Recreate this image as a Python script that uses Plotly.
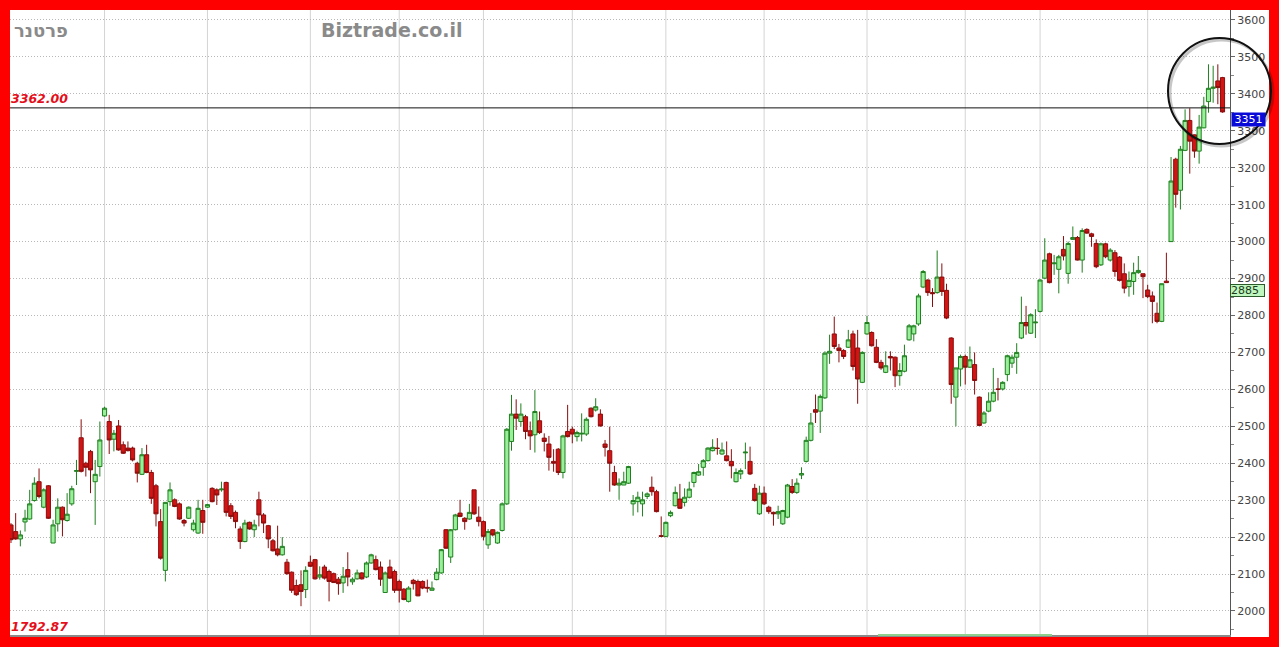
import plotly.graph_objects as go

# ---------------- data ----------------
opens = [
    2233, 2215, 2195, 2241, 2249, 2299, 2350, 2281, 2339, 2184,
    2236, 2281, 2245, 2290, 2378, 2469, 2400, 2432, 2350, 2391,
    2528, 2513, 2465, 2501, 2450, 2441, 2441, 2400, 2370, 2423,
    2375, 2339, 2242, 2110, 2296, 2301, 2290, 2245, 2251, 2220,
    2211, 2272, 2281, 2332, 2328, 2328, 2348, 2285, 2267, 2222,
    2188, 2240, 2220, 2301, 2260, 2231, 2190, 2168, 2152, 2132,
    2105, 2069, 2071, 2058, 2132, 2139, 2092, 2119, 2107, 2101,
    2086, 2076, 2112, 2079, 2087, 2103, 2092, 2130, 2139, 2119,
    2050, 2119, 2107, 2080, 2059, 2026, 2083, 2080, 2080, 2064,
    2056, 2085, 2103, 2220, 2146, 2220, 2265, 2251, 2249, 2328,
    2254, 2242, 2179, 2220, 2184, 2218, 2290, 2459, 2533, 2513,
    2526, 2488, 2477, 2515, 2468, 2452, 2405, 2438, 2375, 2486,
    2492, 2472, 2479, 2479, 2549, 2544, 2533, 2452, 2434, 2375,
    2341, 2341, 2346, 2290, 2296, 2290, 2310, 2335, 2323, 2204,
    2202, 2258, 2285, 2303, 2294, 2308, 2348, 2368, 2389, 2407,
    2434, 2441, 2425, 2420, 2405, 2350, 2371, 2428, 2405, 2332,
    2263, 2319, 2281, 2267, 2263, 2236, 2254, 2337, 2321, 2368,
    2405, 2462, 2545, 2541, 2577, 2698, 2750, 2712, 2705, 2714,
    2750, 2712, 2619, 2750, 2754, 2714, 2673, 2646, 2689, 2687,
    2637, 2649, 2734, 2750, 2777, 2877, 2896, 2862, 2862, 2904,
    2868, 2739, 2579, 2655, 2689, 2660, 2667, 2579, 2509, 2541,
    2568, 2601, 2601, 2640, 2671, 2687, 2739, 2781, 2752, 2780,
    2811, 2901, 2967, 2940, 2925, 2979, 2914, 3006, 3011, 2950,
    3033, 3021, 2995, 2937, 2994, 2950, 2970, 2958, 2913, 2878,
    2892, 2916, 2913, 2869, 2853, 2806, 2784, 2893, 3000, 3223,
    3139, 3247, 3328, 3289, 3245, 3308, 3379, 3415, 3435, 3444,
]
closes = [
    2193, 2195, 2206, 2251, 2290, 2346, 2310, 2328, 2251, 2233,
    2281, 2247, 2262, 2331, 2380, 2378, 2389, 2382, 2370, 2463,
    2549, 2463, 2481, 2436, 2427, 2434, 2409, 2373, 2423, 2375,
    2305, 2263, 2143, 2294, 2328, 2283, 2249, 2238, 2281, 2238,
    2278, 2240, 2288, 2296, 2314, 2330, 2267, 2256, 2242, 2188,
    2238, 2222, 2233, 2260, 2238, 2195, 2163, 2152, 2175, 2101,
    2056, 2044, 2053, 2110, 2121, 2087, 2098, 2089, 2080, 2077,
    2074, 2094, 2092, 2086, 2103, 2087, 2130, 2152, 2112, 2086,
    2103, 2089, 2056, 2056, 2031, 2062, 2074, 2041, 2062, 2062,
    2062, 2105, 2166, 2170, 2220, 2260, 2256, 2242, 2267, 2263,
    2242, 2202, 2215, 2206, 2213, 2290, 2492, 2533, 2522, 2533,
    2486, 2474, 2540, 2483, 2459, 2416, 2400, 2375, 2474, 2472,
    2479, 2483, 2481, 2519, 2526, 2553, 2501, 2443, 2400, 2341,
    2346, 2350, 2391, 2299, 2308, 2301, 2317, 2323, 2269, 2202,
    2240, 2267, 2321, 2278, 2308, 2330, 2375, 2377, 2407, 2441,
    2443, 2440, 2436, 2407, 2393, 2375, 2380, 2430, 2371, 2299,
    2319, 2290, 2269, 2263, 2269, 2272, 2341, 2321, 2346, 2372,
    2462, 2509, 2538, 2581, 2698, 2703, 2716, 2705, 2689, 2734,
    2662, 2628, 2700, 2781, 2718, 2673, 2658, 2664, 2685, 2637,
    2651, 2691, 2772, 2772, 2853, 2919, 2862, 2859, 2904, 2865,
    2793, 2613, 2658, 2689, 2660, 2680, 2624, 2502, 2536, 2568,
    2592, 2600, 2619, 2691, 2687, 2700, 2781, 2772, 2802, 2782,
    2896, 2950, 2889, 2942, 2959, 2961, 2995, 3011, 2950, 3030,
    3023, 3014, 2932, 2994, 2959, 2977, 2919, 2895, 2874, 2895,
    2916, 2922, 2905, 2851, 2838, 2784, 2886, 2889, 3164, 3128,
    3250, 3328, 3272, 3245, 3310, 3367, 3415, 3418, 3417, 3351,
]
highs = [
    2238, 2265, 2218, 2274, 2328, 2362, 2386, 2332, 2341, 2247,
    2305, 2283, 2319, 2339, 2409, 2519, 2404, 2436, 2409, 2513,
    2553, 2531, 2490, 2517, 2459, 2459, 2445, 2404, 2441, 2450,
    2382, 2344, 2276, 2294, 2348, 2305, 2294, 2249, 2283, 2247,
    2301, 2301, 2290, 2335, 2332, 2350, 2350, 2292, 2272, 2229,
    2247, 2242, 2247, 2323, 2265, 2233, 2195, 2231, 2200, 2141,
    2107, 2085, 2110, 2121, 2150, 2141, 2121, 2125, 2112, 2104,
    2092, 2119, 2159, 2091, 2112, 2105, 2134, 2155, 2150, 2134,
    2107, 2139, 2112, 2085, 2062, 2067, 2087, 2085, 2083, 2085,
    2080, 2116, 2168, 2222, 2222, 2263, 2301, 2254, 2290, 2328,
    2283, 2245, 2222, 2222, 2215, 2294, 2495, 2585, 2573, 2562,
    2531, 2513, 2598, 2540, 2481, 2474, 2438, 2441, 2477, 2558,
    2499, 2488, 2535, 2524, 2551, 2576, 2546, 2463, 2499, 2393,
    2359, 2377, 2393, 2314, 2323, 2323, 2321, 2364, 2328, 2256,
    2242, 2272, 2337, 2344, 2332, 2350, 2377, 2398, 2411, 2443,
    2465, 2468, 2456, 2459, 2438, 2386, 2386, 2456, 2445, 2344,
    2339, 2337, 2285, 2269, 2285, 2274, 2344, 2357, 2359, 2389,
    2472, 2536, 2586, 2586, 2703, 2748, 2797, 2723, 2709, 2761,
    2759, 2761, 2703, 2799, 2757, 2736, 2680, 2703, 2703, 2689,
    2671, 2721, 2777, 2775, 2859, 2923, 2898, 2874, 2976, 2941,
    2886, 2741, 2658, 2694, 2694, 2716, 2700, 2581, 2541, 2592,
    2658, 2631, 2622, 2694, 2694, 2725, 2851, 2826, 2806, 2817,
    2898, 3009, 2970, 2964, 2964, 3015, 3000, 3041, 3015, 3036,
    3036, 3024, 3006, 2997, 2997, 2982, 2977, 2961, 2941, 2919,
    2943, 2961, 2913, 2883, 2865, 2835, 2886, 2970, 3229, 3227,
    3259, 3358, 3361, 3290, 3343, 3392, 3480, 3476, 3480, 3446,
]
lows = [
    2184, 2193, 2175, 2215, 2247, 2296, 2305, 2278, 2249, 2184,
    2215, 2202, 2242, 2285, 2341, 2375, 2364, 2319, 2233, 2364,
    2526, 2425, 2432, 2434, 2425, 2432, 2405, 2348, 2368, 2373,
    2290, 2229, 2139, 2080, 2285, 2281, 2247, 2229, 2249, 2215,
    2209, 2209, 2279, 2294, 2287, 2323, 2256, 2249, 2224, 2168,
    2186, 2220, 2200, 2229, 2211, 2170, 2161, 2148, 2150, 2098,
    2049, 2041, 2013, 2035, 2119, 2085, 2085, 2085, 2026, 2076,
    2044, 2049, 2067, 2071, 2085, 2085, 2089, 2128, 2110, 2068,
    2049, 2087, 2049, 2023, 2029, 2023, 2058, 2040, 2059, 2050,
    2056, 2083, 2101, 2168, 2130, 2218, 2254, 2220, 2247, 2260,
    2229, 2191, 2168, 2202, 2182, 2215, 2287, 2434, 2490, 2499,
    2465, 2436, 2429, 2479, 2432, 2380, 2377, 2368, 2359, 2470,
    2454, 2459, 2459, 2474, 2524, 2540, 2499, 2418, 2323, 2339,
    2301, 2341, 2344, 2258, 2267, 2256, 2303, 2312, 2267, 2200,
    2200, 2254, 2283, 2276, 2283, 2305, 2335, 2366, 2366, 2405,
    2432, 2423, 2423, 2405, 2359, 2348, 2357, 2384, 2368, 2296,
    2260, 2287, 2263, 2231, 2249, 2233, 2251, 2317, 2317, 2357,
    2402, 2459, 2509, 2482, 2574, 2669, 2709, 2673, 2682, 2712,
    2651, 2561, 2617, 2748, 2716, 2671, 2653, 2644, 2651, 2606,
    2610, 2646, 2732, 2730, 2772, 2874, 2853, 2823, 2859, 2853,
    2790, 2561, 2500, 2608, 2613, 2658, 2586, 2502, 2507, 2538,
    2565, 2570, 2597, 2622, 2658, 2642, 2736, 2748, 2750, 2739,
    2808, 2898, 2887, 2910, 2860, 2949, 2886, 3005, 2949, 2916,
    3021, 2986, 2928, 2934, 2955, 2946, 2905, 2892, 2860, 2851,
    2856, 2913, 2847, 2847, 2779, 2779, 2782, 2889, 2999, 3092,
    3087, 3245, 3184, 3227, 3211, 3307, 3349, 3376, 3372, 3349,
]
# candle positions where the vertical (month) grid lines fall
month_idx = [20, 42, 64, 83, 101, 120, 140, 161, 183, 204, 220, 243]
y_ticks = list(range(2000, 3601, 100))
ref_level = 3362.00
min_label = "1792.87"
last_price = 3351
green_label = 2885

n = len(opens)
x = list(range(n))
highs = [max(h, o, c) for h, o, c in zip(highs, opens, closes)]
lows = [min(l, o, c) for l, o, c in zip(lows, opens, closes)]

fig = go.Figure(go.Candlestick(
    x=x, open=opens, high=highs, low=lows, close=closes,
    increasing=dict(line=dict(color="#1f7f1f", width=1), fillcolor="#9af09a"),
    decreasing=dict(line=dict(color="#8a0d0d", width=1), fillcolor="#d21414"),
    whiskerwidth=0, hoverinfo="skip", showlegend=False,
))

W, H = 1279, 647
ml, mr, mt, mb = 10, 49, 10, 12
pw, ph = W - ml - mr, H - mt - mb


def px_x(p):
    return (p - ml) / pw


def px_y(p):
    return (H - mb - p) / ph


shapes = [
    # white strip for price axis labels
    dict(type="rect", xref="paper", yref="paper", x0=1, x1=px_x(1269), y0=px_y(637), y1=1,
         fillcolor="white", line=dict(width=0), layer="below"),
    # vertical month grid lines (solid, light)
    *[dict(type="line", xref="x", yref="paper", x0=m, x1=m, y0=0, y1=1,
           line=dict(color="#d4d4d4", width=1), layer="below") for m in month_idx],
    # reference horizontal line
    dict(type="line", xref="paper", yref="y", x0=0, x1=1, y0=ref_level, y1=ref_level,
         line=dict(color="#111111", width=1)),
    # green strip at bottom
    dict(type="line", xref="paper", yref="paper", x0=px_x(878), x1=px_x(1052), y0=0.0, y1=0.0,
         line=dict(color="#8fd08f", width=2)),
    # circle shadow
    dict(type="circle", xref="paper", yref="paper", x0=px_x(1170), x1=px_x(1273),
         y0=px_y(146), y1=px_y(40), line=dict(color="rgba(0,0,0,0.22)", width=3)),
    # circle
    dict(type="circle", xref="paper", yref="paper", x0=px_x(1168), x1=px_x(1271),
         y0=px_y(144), y1=px_y(38), line=dict(color="#111111", width=2)),
]

annotations = [
    dict(text="<b>פרטנר</b>", xref="paper", yref="paper", x=px_x(12), y=px_y(30),
         xanchor="left", yanchor="middle", showarrow=False,
         font=dict(family="DejaVu Sans", size=18, color="#8a8a8a")),
    dict(text="<b>Biztrade.co.il</b>", xref="paper", yref="paper", x=px_x(319), y=px_y(30),
         xanchor="left", yanchor="middle", showarrow=False,
         font=dict(family="DejaVu Sans", size=19, color="#8a8a8a")),
    dict(text="<b><i>%.2f</i></b>" % ref_level, xref="paper", yref="paper", x=px_x(9), y=px_y(98),
         xanchor="left", yanchor="middle", showarrow=False,
         font=dict(family="DejaVu Sans", size=12.5, color="#e3101c")),
    dict(text="<b><i>%s</i></b>" % min_label, xref="paper", yref="paper", x=px_x(9), y=px_y(626),
         xanchor="left", yanchor="middle", showarrow=False,
         font=dict(family="DejaVu Sans", size=12.5, color="#e3101c")),
    dict(text=str(last_price), xref="paper", yref="y", x=px_x(1231), y=last_price,
         xanchor="left", yanchor="top", showarrow=False, width=31, height=11,
         bgcolor="#0a0ad8", borderpad=1, align="center",
         font=dict(family="DejaVu Sans", size=11, color="white")),
    dict(text=str(green_label), xref="paper", yref="y", x=px_x(1230), y=green_label,
         xanchor="left", yanchor="top", showarrow=False, width=33, height=11,
         bgcolor="#bff7bf", bordercolor="#2b5a2b", borderwidth=1, borderpad=0, align="left",
         font=dict(family="DejaVu Sans", size=11, color="#1a3a1a")),
]

fig.update_layout(
    width=W, height=H,
    margin=dict(l=ml, r=mr, t=mt, b=mb, pad=0),
    paper_bgcolor="#ff0000", plot_bgcolor="white",
    showlegend=False, boxgap=0.12, boxgroupgap=0,
    shapes=shapes, annotations=annotations,
    xaxis=dict(
        range=[-0.21, 260.6], rangeslider=dict(visible=False),
        tickmode="array", tickvals=month_idx, showticklabels=False, ticks="",
        showgrid=False,
        zeroline=False, showline=True, linecolor="#8a8a8a", linewidth=2,
        fixedrange=True,
    ),
    yaxis=dict(
        side="right", range=[1935, 3627],
        tickmode="array", tickvals=y_ticks,
        showgrid=True, gridcolor="#b8b8b8", griddash="1px,2px", gridwidth=1,
        ticks="outside", ticklen=4, tickcolor="#666666",
        minor=dict(tickmode="linear", tick0=1950, dtick=100, ticks="outside", ticklen=3,
                   tickcolor="#888888", showgrid=False),
        showline=True, linecolor="#555555", linewidth=1,
        tickfont=dict(family="DejaVu Sans", size=11, color="#444444"),
        zeroline=False, fixedrange=True,
    ),
)

fig.write_html("out.html", config={"displayModeBar": False, "staticPlot": True},
               post_script="document.body.style.margin='0';document.body.style.overflow='hidden';")
